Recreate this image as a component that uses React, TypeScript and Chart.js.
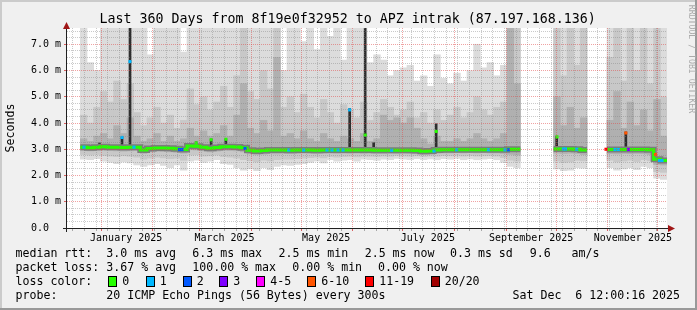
import React, { useEffect, useRef } from 'react';
import { Chart, registerables } from 'chart.js';

Chart.register(...registerables);

const N = null;

// ---- time axis (days from Dec 11 2024 12:00, 360 days) ----
const TOTAL_DAYS = 360;
const COLUMN_DAYS = 4;
const Y_MAX = 7.62;
const monthStartDays = [20.5, 51.5, 79.5, 110.5, 140.5, 171.5, 201.5, 232.5, 263.5, 293.5, 324.5, 354.5];
const monthLabelDays = [35.5, 94.5, 155.5, 216.5, 278.5, 339.5];
const monthLabels = ['January 2025', 'March 2025', 'May 2025', 'July 2025', 'September 2025', 'November 2025'];
const firstWeekDay = 3.5;
const yTickValues = [0, 0.25, 0.5, 0.75, 1, 1.25, 1.5, 1.75, 2, 2.25, 2.5, 2.75, 3, 3.25, 3.5, 3.75, 4, 4.25, 4.5, 4.75, 5, 5.25, 5.5, 5.75, 6, 6.25, 6.5, 6.75, 7, 7.25, 7.5];
const yMajorValues = [0, 1, 2, 3, 4, 5, 6, 7];
const yMajorLabels = ['0.0  ', '1.0 m', '2.0 m', '3.0 m', '4.0 m', '5.0 m', '6.0 m', '7.0 m'];

// ---- smoke (ms), one value per 4-day column ----
const smokeTop = [
  N, N, 7.7, 6.3, 6.0, 7.7, 7.7, 7.7, 7.7, 7.7,
  7.7, 7.7, 6.6, 7.7, 7.7, 7.7, 7.7, 6.7, 7.7, 7.7,
  7.7, 7.7, 7.7, 7.7, 7.7, 7.7, 7.7, 7.7, 7.7, 7.7,
  7.7, 7.7, 6.0, 7.7, 7.7, 7.1, 7.7, 6.8, 7.7, 7.3,
  7.7, 6.4, 7.7, 7.7, 7.7, 6.3, 6.6, 6.4, 5.8, 6.0,
  6.1, 6.2, 5.6, 5.8, 5.4, 6.6, 5.7, 5.5, 5.9, 5.6,
  6.0, 7.0, 6.1, 6.3, 5.8, 6.2, 7.7, 7.7, N, N,
  N, N, N, 7.7, 7.7, 7.7, 7.7, 7.7, N, N,
  N, 7.7, 7.7, 7.7, 7.7, 7.7, 7.7, 7.7, 7.7, 7.7,
];
const smokeUpper = [
  N, N, 4.3, 4.0, 4.6, 5.2, 4.8, 5.6, 4.9, 5.5,
  4.4, 3.9, 4.2, 4.6, 4.0, 4.3, 3.8, 4.1, 5.3, 4.7,
  5.0, 4.5, 4.8, 5.4, 4.6, 5.8, 7.7, 5.2, 4.9, 6.0,
  5.3, 7.7, 4.6, 5.0, 4.4, 5.1, 4.6, 4.2, 4.9, 4.4,
  4.0, 4.7, 4.5, 4.2, 4.8, 4.1, 4.4, 4.9, 4.6, 4.3,
  4.5, 4.8, 4.2, 4.4, 4.0, 4.5, 4.1, 4.3, 4.6, 4.2,
  4.4, 5.0, 4.5, 4.3, 4.6, 4.8, 7.7, 7.7, N, N,
  N, N, N, 7.7, 5.8, 7.7, 6.2, 7.7, N, N,
  N, 6.5, 7.7, 5.6, 7.7, 6.0, 7.7, 5.5, 7.7, 5.0,
];
const smokeInner = [
  N, N, 3.4, 3.3, 3.5, 3.6, 3.4, 3.9, 3.6, 4.2,
  3.5, 3.3, 3.4, 3.6, 3.3, 3.5, 3.3, 3.4, 3.8, 3.5,
  3.7, 3.5, 3.6, 3.9, 3.5, 4.3, 5.5, 3.8, 3.6, 4.1,
  3.7, 6.5, 3.5, 3.6, 3.4, 3.7, 3.4, 3.3, 3.6, 3.4,
  3.3, 3.5, 3.4, 3.3, 3.6, 3.3, 3.4, 4.3, 4.1, 4.2,
  4.0, 4.2, 3.8, 3.4, 3.2, 3.5, 3.3, 3.3, 3.4, 3.3,
  3.4, 3.6, 3.4, 3.3, 3.4, 3.6, 7.7, 5.5, N, N,
  N, N, N, 5.0, 3.9, 4.6, 3.8, 4.2, N, N,
  N, 4.1, 5.2, 3.8, 4.8, 3.9, 4.5, 3.7, 4.9, 3.5,
];
const medianRtt = [
  N, N, 3.08, 3.06, 3.08, 3.1, 3.08, 3.08, 3.07, 3.08,
  3.08, 2.97, 3.03, 3.05, 3.05, 3.04, 3.02, 2.99, 3.12, 3.11,
  3.08, 3.04, 3.07, 3.1, 3.1, 3.09, 3.06, 2.96, 2.93, 2.95,
  2.97, 2.97, 2.97, 2.96, 2.97, 2.97, 2.97, 2.96, 2.97, 2.97,
  2.97, 2.97, 2.97, 2.97, 2.97, 2.97, 2.96, 2.96, 2.96, 2.96,
  2.96, 2.96, 2.95, 2.92, 2.93, 2.97, 2.98, 2.98, 2.98, 2.98,
  2.98, 2.98, 2.98, 2.98, 2.98, 2.98, 3.0, 3.0, N, N,
  N, N, N, 3.01, 3.01, 3.01, 3.0, 2.97, N, N,
  N, 2.99, 2.99, 2.99, 2.99, 2.99, 2.99, 2.98, 2.62, 2.57,
];
const smokeLowInner = [
  N, N, 2.96, 2.94, 2.95, 2.97, 2.95, 2.94, 2.93, 2.94,
  2.95, 2.84, 2.9, 2.92, 2.91, 2.9, 2.88, 2.85, 2.98, 2.97,
  2.94, 2.9, 2.93, 2.96, 2.95, 2.94, 2.9, 2.82, 2.79, 2.81,
  2.83, 2.82, 2.84, 2.83, 2.84, 2.85, 2.84, 2.83, 2.84, 2.85,
  2.84, 2.85, 2.84, 2.85, 2.84, 2.85, 2.84, 2.84, 2.85, 2.84,
  2.85, 2.84, 2.83, 2.8, 2.81, 2.85, 2.86, 2.86, 2.87, 2.86,
  2.87, 2.86, 2.87, 2.86, 2.86, 2.84, 2.8, 2.78, N, N,
  N, N, N, 2.85, 2.84, 2.85, 2.84, 2.8, N, N,
  N, 2.83, 2.82, 2.84, 2.83, 2.84, 2.83, 2.8, 2.42, 2.4,
];
const smokeLowOuter = [
  N, N, 2.8, 2.78, 2.8, 2.76, 2.74, 2.72, 2.75, 2.73,
  2.7, 2.62, 2.66, 2.7, 2.67, 2.64, 2.66, 2.58, 2.78, 2.79,
  2.74, 2.75, 2.78, 2.72, 2.7, 2.66, 2.6, 2.56, 2.52, 2.58,
  2.55, 2.6, 2.62, 2.62, 2.64, 2.66, 2.68, 2.7, 2.67, 2.72,
  2.7, 2.72, 2.73, 2.71, 2.74, 2.73, 2.72, 2.74, 2.73, 2.76,
  2.74, 2.73, 2.75, 2.72, 2.74, 2.73, 2.76, 2.75, 2.77, 2.74,
  2.76, 2.74, 2.75, 2.76, 2.74, 2.68, 2.58, 2.55, N, N,
  N, N, N, 2.55, 2.5, 2.52, 2.58, 2.56, N, N,
  N, 2.58, 2.52, 2.55, 2.58, 2.53, 2.6, 2.56, 2.15, 2.12,
];
const smokeBottom = [
  N, N, 2.62, 2.6, 2.64, 2.55, 2.5, 2.45, 2.52, 2.48,
  2.4, 2.35, 2.4, 2.45, 2.38, 2.3, 2.4, 2.2, 2.55, 2.58,
  2.5, 2.55, 2.6, 2.45, 2.42, 2.3, 2.2, 2.25, 2.18, 2.3,
  2.22, 2.35, 2.4, 2.38, 2.42, 2.45, 2.5, 2.55, 2.48, 2.6,
  2.55, 2.58, 2.6, 2.55, 2.62, 2.6, 2.58, 2.62, 2.6, 2.65,
  2.62, 2.6, 2.64, 2.6, 2.63, 2.6, 2.64, 2.62, 2.65, 2.6,
  2.63, 2.6, 2.62, 2.64, 2.6, 2.5, 2.35, 2.3, N, N,
  N, N, N, 2.25, 2.18, 2.2, 2.3, 2.28, N, N,
  N, 2.3, 2.2, 2.25, 2.3, 2.22, 2.35, 2.3, 1.9, 1.85,
];

// ---- narrow spikes (all pings high) ----
const spikeDay = [19.5, 33.0, 37.8, 77.5, 86.5, 95.3, 169.6, 178.9, 184.0, 221.5, 293.8, 335.3];
const spikeLow = [3.06, 3.07, 3.08, 3.1, 3.06, 3.1, 2.97, 2.97, 2.97, 2.97, 3.01, 2.99];
const spikeHigh = [3.24, 3.47, 7.7, 3.28, 3.39, 3.4, 4.55, 7.7, 3.25, 3.97, 3.5, 3.66];

// ---- median points coloured by packet loss ----
const markerDay = [10.2, 33.0, 37.8, 40.2, 67.5, 69.0, 77.5, 86.5, 95.3, 106.8, 133.0, 142.0, 156.0, 159.0, 162.6, 165.6, 169.6, 178.9, 194.8, 220.2, 221.5, 233.8, 252.8, 262.8, 264.8, 294.0, 297.8, 299.1, 305.8, 323.4, 328.8, 330.8, 335.3, 336.8, 353.1, 355.4, 357.0];
const markerRtt = [3.08, 3.45, 6.34, 3.08, 2.99, 2.99, 3.24, 3.36, 3.38, 3.03, 2.97, 2.97, 2.97, 2.97, 2.97, 2.97, 4.5, 3.54, 2.96, 2.93, 3.68, 2.98, 2.98, 2.98, 2.98, 3.47, 3.01, 3.01, 3.0, 3.0, 2.99, 2.99, 3.62, 2.99, 2.8, 2.57, 2.57];
const markerLoss = [1, 1, 1, 1, 2, 2, 0, 0, 0, 2, 1, 1, 1, 1, 1, 1, 1, 0, 1, 1, 0, 1, 1, 1, 2, 0, 1, 1, 1, 6, 1, 1, 5, 3, 5, 1, 1];

const lossColors = ['#26ff00', '#00b8ff', '#0059ff', '#7e00ff', '#ff00ff', '#ff5500', '#ff0000', '#a10000'];
const lossLabels = ['0', '1', '2', '3', '4-5', '6-10', '11-19', '20/20'];

// ---- legend texts ----
const titleText = 'Last 360 Days from 8f19e0f32952 to APZ intrak (87.197.168.136)';
const rttTexts = ['median rtt:', '3.0 ms avg', '6.3 ms max', '2.5 ms min', '2.5 ms now', '0.3 ms sd', '9.6', 'am/s'];
const lossTexts = ['packet loss:', '3.67 % avg', '100.00 % max', '0.00 % min', '0.00 % now'];
const probeTexts = ['probe:', '20 ICMP Echo Pings (56 Bytes) every 300s', 'Sat Dec  6 12:00:16 2025'];

const FONT = "'DejaVu Sans Mono', 'Liberation Mono', monospace";
const MAJOR = 'rgba(225, 70, 70, 0.5)';
const MINOR = 'rgba(128, 128, 128, 0.42)';
const NONE = 'rgba(0,0,0,0)';

const xTickInfo = new Map<number, any>();
monthStartDays.forEach((d) => xTickInfo.set(d, { ...(xTickInfo.get(d) || {}), month: true }));
for (let d = firstWeekDay; d < TOTAL_DAYS; d += 7) xTickInfo.set(d, { ...(xTickInfo.get(d) || {}), week: true });
monthLabelDays.forEach((d, i) => xTickInfo.set(d, { ...(xTickInfo.get(d) || {}), label: monthLabels[i] }));
const xTickValues = Array.from(xTickInfo.keys()).sort((a, b) => a - b);

function bandData(lo: (number | null)[], hi: (number | null)[]) {
  const out: any[] = [];
  lo.forEach((l, i) => {
    const h = hi[i];
    if (l != null && h != null) out.push({ x: i * COLUMN_DAYS + COLUMN_DAYS / 2, y: [l, h] });
  });
  return out;
}

function stepData(vals: (number | null)[]) {
  const pts: any[] = [];
  vals.forEach((v, i) => {
    if (v == null) return;
    pts.push({ x: i * COLUMN_DAYS, y: v });
    if (vals[i + 1] == null) {
      pts.push({ x: (i + 1) * COLUMN_DAYS, y: v });
      pts.push({ x: (i + 1) * COLUMN_DAYS, y: null });
    }
  });
  return pts;
}

const rrdFrame = {
  id: 'rrdFrame',
  beforeDraw(chart: any) {
    const { ctx, chartArea: a } = chart;
    ctx.save();
    ctx.fillStyle = '#ffffff';
    ctx.fillRect(a.left, a.top, a.right - a.left, a.bottom - a.top);
    ctx.restore();
  },
  afterDraw(chart: any) {
    const { ctx, chartArea: a } = chart;
    ctx.save();
    ctx.strokeStyle = '#202020';
    ctx.lineWidth = 1;
    ctx.beginPath();
    ctx.moveTo(a.left - 4, a.bottom + 0.5);
    ctx.lineTo(a.right + 2, a.bottom + 0.5);
    ctx.moveTo(a.left - 0.5, a.bottom + 4);
    ctx.lineTo(a.left - 0.5, a.top);
    ctx.stroke();
    ctx.fillStyle = '#a01616';
    ctx.beginPath();
    ctx.moveTo(a.right + 1, a.bottom + 0.5 - 3.5);
    ctx.lineTo(a.right + 8, a.bottom + 0.5);
    ctx.lineTo(a.right + 1, a.bottom + 0.5 + 3.5);
    ctx.closePath();
    ctx.fill();
    ctx.beginPath();
    ctx.moveTo(a.left - 0.5 - 3.5, a.top + 1);
    ctx.lineTo(a.left - 0.5, a.top - 6);
    ctx.lineTo(a.left - 0.5 + 3.5, a.top + 1);
    ctx.closePath();
    ctx.fill();
    ctx.restore();
  },
};

function Txt(props: any) {
  const { x, baseline, size, color, children } = props;
  return (
    <div
      style={{
        position: 'absolute',
        left: x,
        top: baseline - 0.946 * size,
        fontSize: size,
        lineHeight: 1.2,
        whiteSpace: 'pre',
        color: color || '#000',
        fontFamily: FONT,
      }}
    >
      {children}
    </div>
  );
}

export default function App() {
  const canvasRef = useRef<HTMLCanvasElement>(null);

  useEffect(() => {
    const canvas = canvasRef.current;
    if (!canvas) return;
    const median = stepData(medianRtt);
    const chart = new Chart(canvas, {
      type: 'bar',
      data: {
        datasets: [
          { type: 'bar', data: bandData(smokeBottom, smokeTop), backgroundColor: '#dcdcdc', borderWidth: 0, barThickness: 6.7, grouped: false, clip: 0, order: 10 },
          { type: 'bar', data: bandData(smokeLowOuter, smokeUpper), backgroundColor: '#c8c8c8', borderWidth: 0, barThickness: 6.7, grouped: false, clip: 0, order: 9 },
          { type: 'bar', data: bandData(smokeLowInner, smokeInner), backgroundColor: '#b0b0b0', borderWidth: 0, barThickness: 6.7, grouped: false, clip: 0, order: 8 },
          { type: 'bar', data: spikeDay.map((d, i) => ({ x: d, y: [spikeLow[i], spikeHigh[i]] })), backgroundColor: '#2e2e2e', borderWidth: 0, barThickness: 2, grouped: false, clip: 0, order: 7 },
          { type: 'line', data: median, borderColor: '#7c7c7c', borderWidth: 6, stepped: true, pointRadius: 0, spanGaps: false, borderCapStyle: 'butt', order: 6 },
          { type: 'line', data: median, borderColor: lossColors[0], borderWidth: 3, stepped: true, pointRadius: 0, spanGaps: false, borderCapStyle: 'butt', order: 5 },
          {
            type: 'scatter',
            data: markerDay.map((d, i) => ({ x: d, y: markerRtt[i] })),
            pointStyle: 'rect',
            pointRadius: 2.2,
            pointBorderWidth: 0,
            pointBackgroundColor: markerLoss.map((l) => lossColors[l]),
            order: 4,
          },
        ] as any,
      },
      options: {
        responsive: false,
        maintainAspectRatio: false,
        animation: false,
        devicePixelRatio: 1,
        events: [],
        layout: { padding: { left: 0, right: 30, top: 28, bottom: 0 } },
        plugins: { legend: { display: false }, tooltip: { enabled: false }, title: { display: false } },
        scales: {
          x: {
            type: 'linear',
            min: 0,
            max: TOTAL_DAYS,
            offset: false,
            afterBuildTicks: (s: any) => {
              s.ticks = xTickValues.map((v) => ({ value: v }));
            },
            afterFit: (s: any) => {
              s.height = 82;
            },
            ticks: {
              autoSkip: false,
              maxRotation: 0,
              minRotation: 0,
              padding: 1,
              color: '#000',
              font: { family: FONT, size: 10 },
              callback: (v: any) => (xTickInfo.get(v) && xTickInfo.get(v).label) || '',
            },
            grid: {
              z: 1,
              offset: false,
              drawTicks: true,
              tickLength: 3,
              lineWidth: 1,
              color: (c: any) => {
                const info = c.tick && xTickInfo.get(c.tick.value);
                if (!info) return NONE;
                if (info.month) return MAJOR;
                if (info.week) return MINOR;
                return NONE;
              },
              tickColor: (c: any) => {
                const info = c.tick && xTickInfo.get(c.tick.value);
                if (!info) return NONE;
                if (info.month) return 'rgba(210, 60, 60, 0.8)';
                if (info.week) return 'rgba(120,120,120,0.6)';
                return NONE;
              },
            },
            border: { display: false, dash: [1, 1] },
          },
          y: {
            type: 'linear',
            min: 0,
            max: Y_MAX,
            afterBuildTicks: (s: any) => {
              s.ticks = yTickValues.map((v) => ({ value: v }));
            },
            afterFit: (s: any) => {
              s.width = 67;
            },
            ticks: {
              autoSkip: false,
              padding: 3,
              color: '#000',
              font: { family: FONT, size: 10 },
              callback: (v: any) => {
                const k = yMajorValues.indexOf(v);
                return k >= 0 ? yMajorLabels[k] : '';
              },
            },
            grid: {
              z: 1,
              drawTicks: true,
              tickLength: 3,
              lineWidth: 1,
              color: (c: any) => (c.tick && yMajorValues.indexOf(c.tick.value) >= 0 ? MAJOR : MINOR),
              tickColor: (c: any) => (c.tick && yMajorValues.indexOf(c.tick.value) >= 0 ? 'rgba(210, 60, 60, 0.8)' : NONE),
            },
            border: { display: false, dash: [1, 1] },
          },
        },
      } as any,
      plugins: [rrdFrame],
    });
    return () => chart.destroy();
  }, []);

  const rttX = [15.5, 106.3, 192.3, 278.5, 364.7, 450, 529.7, 571.5];
  const lossX = [15.5, 106.3, 192.3, 292.3, 378];
  const probeX = [15.5, 106.3, 512.5];
  const boxX = [108, 145.5, 182.5, 219, 256, 307, 365, 430.5];
  const rowBase = [258.3, 272.2, 286.1, 299.9];
  const LS = 11.6;

  return (
    <div
      style={{
        position: 'fixed',
        left: 0,
        top: 0,
        width: 697,
        height: 310,
        background: '#f0f0f0',
        overflow: 'hidden',
        fontFamily: FONT,
      }}
    >
      <canvas ref={canvasRef} width={697} height={310} style={{ position: 'absolute', left: 0, top: 0, width: 697, height: 310 }} />
      <div style={{ position: 'absolute', left: 0, top: 0, width: 697, height: 2, background: '#cbcbcb' }} />
      <div style={{ position: 'absolute', left: 0, top: 0, width: 2, height: 310, background: '#cbcbcb' }} />
      <div style={{ position: 'absolute', left: 0, top: 308, width: 697, height: 2, background: '#999999' }} />
      <div style={{ position: 'absolute', left: 695, top: 0, width: 2, height: 310, background: '#999999' }} />

      <Txt x={99.5} baseline={23.3} size={13.3}>{titleText}</Txt>

      <div
        style={{
          position: 'absolute',
          left: 10.5,
          top: 127.5,
          transform: 'translate(-50%, -50%) rotate(-90deg)',
          fontSize: LS,
          lineHeight: 1,
          whiteSpace: 'pre',
          color: '#000',
        }}
      >
        Seconds
      </div>
      <div
        style={{
          position: 'absolute',
          left: 691.5,
          top: 59,
          transform: 'translate(-50%, -50%) rotate(90deg)',
          fontSize: 8.2,
          lineHeight: 1,
          whiteSpace: 'pre',
          color: '#aaaaaa',
        }}
      >
        RRDTOOL / TOBI OETIKER
      </div>

      {rttTexts.map((t, i) => (
        <Txt key={'r' + i} x={rttX[i]} baseline={rowBase[0]} size={LS}>{t}</Txt>
      ))}
      {lossTexts.map((t, i) => (
        <Txt key={'l' + i} x={lossX[i]} baseline={rowBase[1]} size={LS}>{t}</Txt>
      ))}
      <Txt x={15.5} baseline={rowBase[2]} size={LS}>loss color:</Txt>
      {lossLabels.map((t, i) => (
        <React.Fragment key={'c' + i}>
          <div
            style={{
              position: 'absolute',
              left: boxX[i],
              top: 275.5,
              width: 9,
              height: 11,
              boxSizing: 'border-box',
              border: '1px solid #000',
              background: lossColors[i],
            }}
          />
          <Txt x={boxX[i] + 14.2} baseline={rowBase[2]} size={LS}>{t}</Txt>
        </React.Fragment>
      ))}
      {probeTexts.map((t, i) => (
        <Txt key={'p' + i} x={probeX[i]} baseline={rowBase[3]} size={LS}>{t}</Txt>
      ))}
    </div>
  );
}
